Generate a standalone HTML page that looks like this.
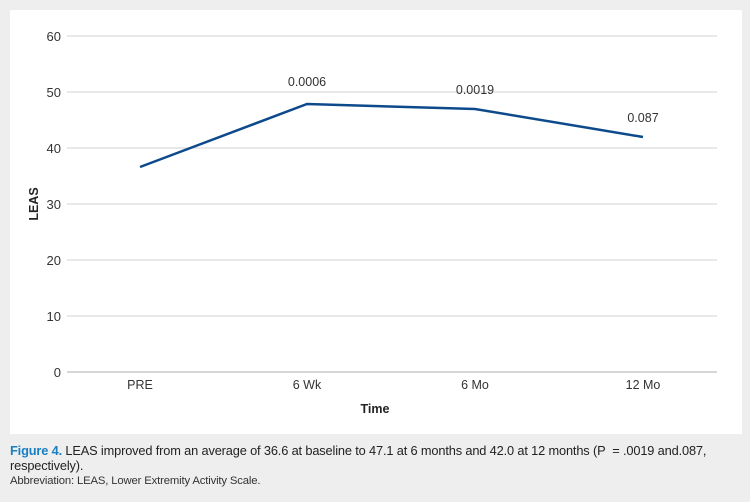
<!DOCTYPE html>
<html><head><style>
body{margin:0;width:750px;height:502px;background:#efeeef;font-family:"Liberation Sans",sans-serif;position:relative;overflow:hidden}
.cap{position:absolute;left:10px;font-size:12.8px;color:#222;letter-spacing:-0.15px;line-height:15px}
</style></head><body>
<svg width="750" height="440" style="position:absolute;left:0;top:0">
<rect x="10" y="10" width="732" height="424" fill="#fff"/>
<g stroke="#e0e0e0" stroke-width="1.5">
<line x1="67" x2="717" y1="36" y2="36"/><line x1="67" x2="717" y1="92" y2="92"/>
<line x1="67" x2="717" y1="148" y2="148"/><line x1="67" x2="717" y1="204" y2="204"/>
<line x1="67" x2="717" y1="260" y2="260"/><line x1="67" x2="717" y1="316" y2="316"/>
</g>
<line x1="67" x2="717" y1="372" y2="372" stroke="#c8c8c8" stroke-width="1.5"/>
<g font-size="13" fill="#333" text-anchor="end">
<text x="61" y="41">60</text><text x="61" y="97">50</text><text x="61" y="153">40</text>
<text x="61" y="209">30</text><text x="61" y="265">20</text><text x="61" y="321">10</text><text x="61" y="377">0</text>
</g>
<g font-size="12.5" fill="#333" text-anchor="middle">
<text x="140" y="389">PRE</text><text x="307" y="389">6 Wk</text><text x="475" y="389">6 Mo</text><text x="643" y="389">12 Mo</text>
<text x="307" y="86">0.0006</text><text x="475" y="94">0.0019</text><text x="643" y="122">0.087</text>
</g>
<text x="375" y="413" font-size="12.5" font-weight="bold" text-anchor="middle" fill="#222">Time</text>
<text transform="translate(38,204) rotate(-90)" font-size="12.5" font-weight="bold" text-anchor="middle" fill="#222">LEAS</text>
<polyline points="140,167 307,104 475,109 643,137" fill="none" stroke="#0d4a8c" stroke-width="2.5"/>
</svg>
<div class="cap" style="top:443px"><b style="color:#1a7fc1">Figure 4.</b> LEAS improved from an average of 36.6 at baseline to 47.1 at 6 months and 42.0 at 12 months (P&nbsp; = .0019 and.087,<br>respectively).</div>
<div class="cap" style="top:474px;font-size:11.3px;color:#333">Abbreviation: LEAS, Lower Extremity Activity Scale.</div>
</body></html>
